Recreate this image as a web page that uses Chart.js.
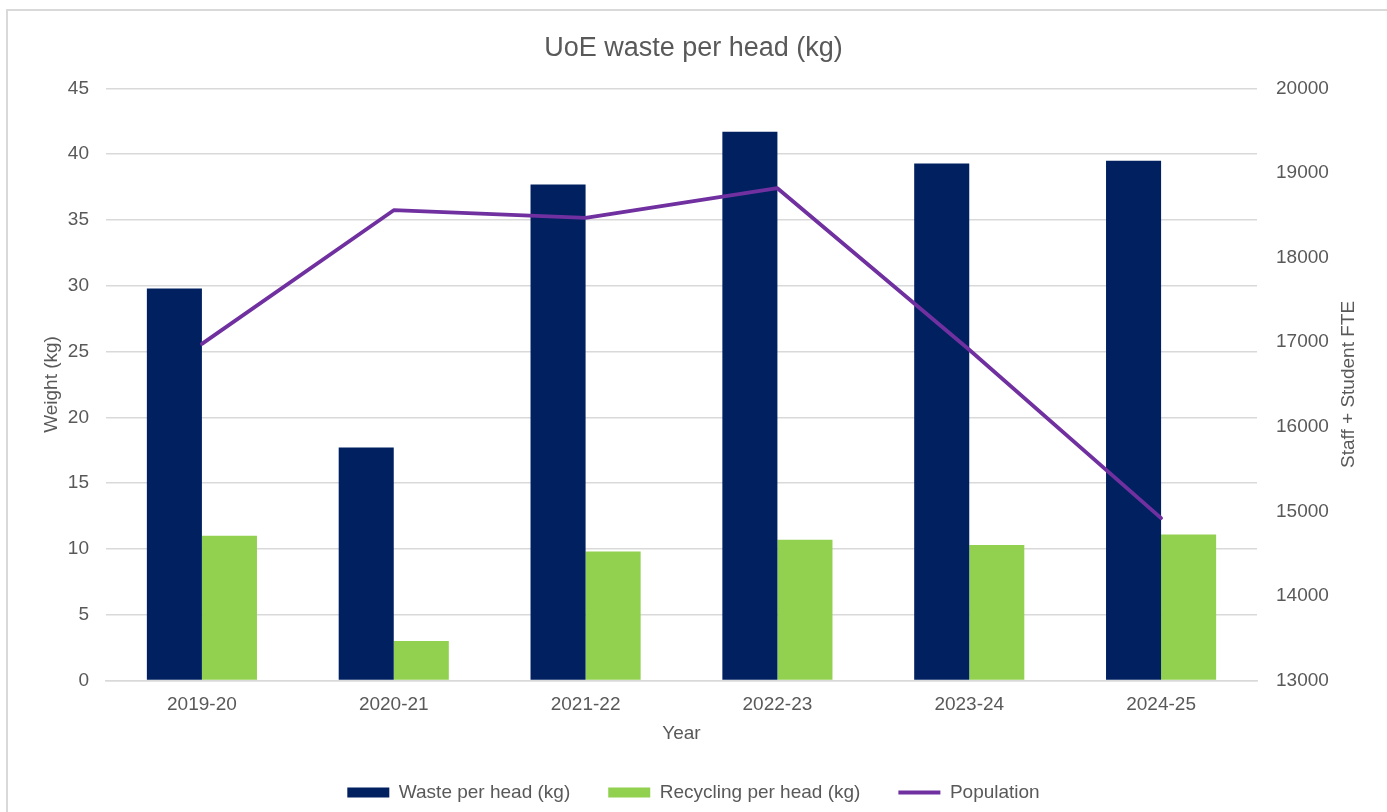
<!DOCTYPE html>
<html>
<head>
<meta charset="utf-8">
<script src="https://cdn.jsdelivr.net/npm/chart.js@4"></script>
<style>
  body { margin: 0; background: #fff; overflow: hidden; }
</style>
</head>
<body>
<canvas id="myChart" width="1387" height="812"></canvas>
<script>
var years = ["2019-20", "2020-21", "2021-22", "2022-23", "2023-24", "2024-25"];
var wastePerHead = [29.8, 17.7, 37.7, 41.7, 39.3, 39.5];
var recyclingPerHead = [11.0, 3.0, 9.8, 10.7, 10.3, 11.1];
var population = [16980, 18560, 18470, 18820, 16910, 14920];

var textColor = "#595959";
var gridColor = "#D9D9D9";

Chart.defaults.font.family = "'Liberation Sans', Arial, sans-serif";
Chart.defaults.font.size = 19;
Chart.defaults.color = textColor;

// outer frame + right axis title (reads bottom-to-top like the left one)
var extras = {
  id: 'extras',
  beforeDraw(chart) {
    var ctx = chart.ctx;
    ctx.save();
    ctx.fillStyle = "#fff";
    ctx.fillRect(0, 0, chart.width, chart.height);
    ctx.strokeStyle = gridColor;
    ctx.lineWidth = 2;
    ctx.strokeRect(7, 10, 1500, 1000);
    ctx.restore();
  },
  afterDraw(chart) {
    var ctx = chart.ctx;
    var area = chart.chartArea;
    ctx.save();
    ctx.translate(1349, (area.top + area.bottom) / 2);
    ctx.rotate(-Math.PI / 2);
    ctx.fillStyle = textColor;
    ctx.font = "19px 'Liberation Sans', Arial, sans-serif";
    ctx.textAlign = "center";
    ctx.textBaseline = "middle";
    ctx.fillText("Staff + Student FTE", 0, 0);
    ctx.restore();
  }
};

var myChart = new Chart(document.getElementById("myChart"), {
  type: 'bar',
  data: {
    labels: years,
    datasets: [{
      label: "Waste per head (kg)",
      data: wastePerHead,
      backgroundColor: "#002060",
      borderWidth: 0,
      pointStyle: 'rect',
      yAxisID: 'y',
      order: 1
    }, {
      label: "Recycling per head (kg)",
      data: recyclingPerHead,
      backgroundColor: "#92D050",
      borderWidth: 0,
      pointStyle: 'rect',
      yAxisID: 'y',
      order: 1
    }, {
      type: 'line',
      label: "Population",
      data: population,
      borderColor: "#7030A0",
      backgroundColor: "#7030A0",
      borderWidth: 3.8,
      borderCapStyle: 'round',
      borderJoinStyle: 'round',
      pointRadius: 0,
      pointStyle: 'line',
      tension: 0,
      yAxisID: 'y1',
      order: 0
    }]
  },
  options: {
    responsive: false,
    animation: false,
    layout: { padding: 0 },
    datasets: {
      bar: { categoryPercentage: 0.574, barPercentage: 1 }
    },
    plugins: {
      title: {
        display: true,
        text: "UoE waste per head (kg)",
        color: textColor,
        font: { size: 27, weight: 'normal' },
        padding: { top: 32, bottom: 24 }
      },
      legend: {
        position: 'bottom',
        labels: {
          usePointStyle: true,
          pointStyleWidth: 42,
          boxHeight: 10,
          padding: 38,
          color: textColor,
          font: { size: 19 },
          sort: (a, b) => a.datasetIndex - b.datasetIndex
        }
      },
      tooltip: { enabled: false }
    },
    scales: {
      x: {
        grid: { display: false, drawTicks: false },
        border: { display: true, color: gridColor, width: 1.5 },
        ticks: { padding: 13, color: textColor },
        title: {
          display: true,
          text: "Year",
          color: textColor,
          font: { size: 19 },
          padding: { top: 0, bottom: 0 }
        },
        afterFit(scale) { scale.height = 64.5; }
      },
      y: {
        position: 'left',
        min: 0,
        max: 45,
        ticks: { stepSize: 5, padding: 17, color: textColor },
        grid: { color: gridColor, lineWidth: 1.5, drawTicks: false },
        border: { display: false },
        title: {
          display: true,
          text: "Weight (kg)",
          color: textColor,
          font: { size: 19 },
          padding: { top: 40, bottom: 0 }
        },
        afterFit(scale) { scale.width = 106; }
      },
      y1: {
        position: 'right',
        min: 13000,
        max: 20000,
        ticks: {
          stepSize: 1000,
          padding: 19,
          color: textColor,
          callback: (v) => String(v)
        },
        grid: { drawOnChartArea: false, drawTicks: false },
        border: { display: false },
        afterFit(scale) { scale.width = 130; }
      }
    }
  },
  plugins: [extras]
});
</script>
</body>
</html>
